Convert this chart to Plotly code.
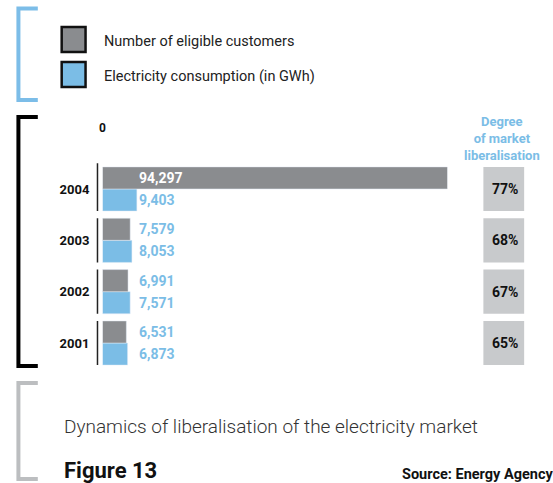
import plotly.graph_objects as go

years = ["2001", "2002", "2003", "2004"]
customers = [6531, 6991, 7579, 94297]
consumption = [6873, 7571, 8053, 9403]
degree = [65, 67, 68, 77]

W, H = 553, 483
GRAY = "#8a8c8f"
BLUE = "#7bbde6"
BOX = "#c8cacc"
FONT = "Roboto, Lato, sans-serif"


def px(x):
    return x / W


def py(y):
    return 1 - y / H


fig = go.Figure()
# blue first so it sits below the gray bar in each group
fig.add_trace(go.Bar(y=years, x=consumption, orientation="h", marker_color=BLUE,
                     name="Electricity consumption (in GWh)", hoverinfo="x"))
fig.add_trace(go.Bar(y=years, x=customers, orientation="h", marker_color=GRAY,
                     name="Number of eligible customers", hoverinfo="x"))

shapes = []
annotations = []


def note(x, y, text, size, color="#111", xanchor="left", weight="normal", yref="paper", yshift=0):
    return dict(xref="paper", yref=yref, x=x, y=y, yshift=yshift, text=text, showarrow=False,
                xanchor=xanchor, yanchor="middle",
                font=dict(family=FONT, size=size, color=color, weight=weight))


# value labels, degree boxes, group separators
for i, yr in enumerate(years):
    top_is_bar = i == len(years) - 1
    annotations.append(note(px(135), i, "{:,}".format(customers[i]), 14,
                            "white" if top_is_bar else BLUE, weight="bold", yref="y", yshift=11))
    annotations.append(note(px(135), i, "{:,}".format(consumption[i]), 14,
                            BLUE, weight="bold", yref="y", yshift=-11))
    shapes.append(dict(type="rect", xref="paper", yref="y", x0=px(483), x1=px(524),
                       y0=i - 0.43, y1=i + 0.43, fillcolor=BOX, line_width=0, layer="below"))
    annotations.append(note(px(505), i, "%d%%" % degree[i], 14, "#111", xanchor="center",
                            weight="bold", yref="y"))
    y1 = i + 0.43 if not top_is_bar else i + 1.02
    shapes.append(dict(type="line", xref="paper", yref="y", x0=px(95), x1=px(95),
                       y0=i - 0.43, y1=y1, line=dict(color="#222", width=1.5)))

annotations.append(note(px(502), py(138), "Degree<br>of market<br>liberalisation", 13, BLUE,
                        xanchor="center", weight="bold"))


# brackets
def bracket(y0, y1, color):
    return dict(type="path", xref="paper", yref="paper",
                path="M {a},{b} L {c},{b} L {c},{d} L {a},{d}".format(
                    a=px(35), c=px(15.5), b=py(y0), d=py(y1)),
                line=dict(color=color, width=4))


shapes.append(bracket(8.5, 100, "#7cbde8"))
shapes.append(bracket(117, 366, "#000000"))
shapes.append(bracket(383, 479, "#bcbec0"))

# legend
for y0, col, label in [(26, GRAY, "Number of eligible customers"),
                       (61, BLUE, "Electricity consumption (in GWh)")]:
    shapes.append(dict(type="rect", xref="paper", yref="paper", x0=px(59), x1=px(83),
                       y0=py(y0 + 1), y1=py(y0 + 26), fillcolor=col,
                       line=dict(color="#111", width=2.5)))
    annotations.append(note(px(100), py(y0 + 15), label, 14.5, "#222"))

annotations += [
    note(px(59), py(426), "Dynamics of liberalisation of the electricity market", 19, "#333",
         weight=300),
    note(px(59), py(470), "Figure 13", 22, "#111", weight="bold"),
    note(1.004, py(474), "Source: Energy Agency", 14.5, "#111", xanchor="right", weight="bold"),
]

fig.update_layout(
    width=W, height=H,
    margin=dict(l=0, r=0, t=0, b=0),
    paper_bgcolor="white", plot_bgcolor="white",
    barmode="group", bargap=0.14, bargroupgap=0,
    showlegend=False,
    shapes=shapes, annotations=annotations,
    xaxis=dict(domain=[px(100), px(447)], range=[0, max(customers)], side="top",
               tickvals=[0], ticktext=["0"], showgrid=False, zeroline=False,
               showline=False, ticks="", ticklabelstandoff=28,
               tickfont=dict(family=FONT, size=12, color="#111", weight="bold")),
    yaxis=dict(domain=[py(368.7), py(163.3)], type="category", categoryorder="array",
               categoryarray=years, range=[-0.5, 3.5], showgrid=False, showline=False,
               ticks="", ticklabelstandoff=12,
               tickfont=dict(family=FONT, size=13, color="#111", weight="bold")),
)

fig.write_html("out.html", config={"displayModeBar": False},
               post_script="document.body.style.margin='0';")
